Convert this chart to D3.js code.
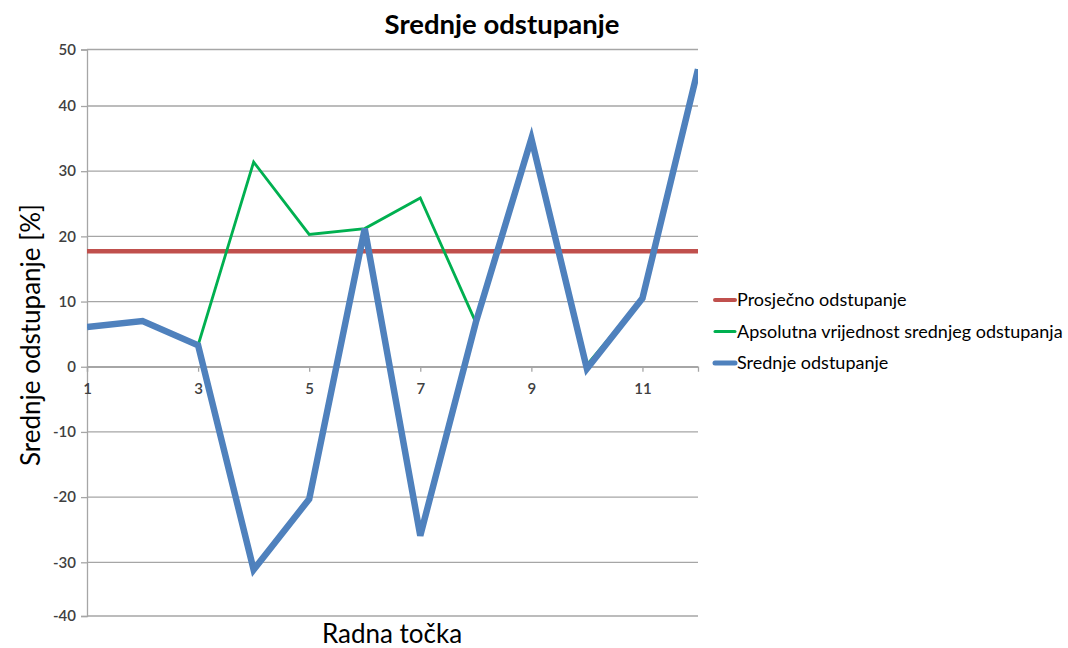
<!DOCTYPE html>
<html><head><meta charset="utf-8">
<script src="https://cdn.jsdelivr.net/npm/d3@7"></script>
<style>body{margin:0;background:#fff} text{font-family:Lato,"Open Sans",sans-serif}</style>
</head><body><svg id="c" width="1068" height="648"></svg>
<script>
const categories = [1,2,3,4,5,6,7,8,9,10,11,12];
const srednjeOdstupanje = [6.1,7.0,3.3,-31.4,-20.3,21.2,-25.9,6.8,35.0,-0.3,10.5,46.5];
const apsolutnaVrijednost = [6.1,7.0,3.3,31.4,20.3,21.2,25.9,6.8,35.0,0.3,10.5,46.5];
const prosjecnoOdstupanje = [17.7,17.7,17.7,17.7,17.7,17.7,17.7,17.7,17.7,17.7,17.7,17.7];
const yTicks = [-40,-30,-20,-10,0,10,20,30,40,50];
const xTickLabels = [1,3,5,7,9,11];
const seriesNames = ["Prosječno odstupanje","Apsolutna vrijednost srednjeg odstupanja","Srednje odstupanje"];

const svg = d3.select("#c");
const x = d3.scaleLinear().domain([1,12]).range([87,698]);
const y = d3.scaleLinear().domain([-40,-30,40,50]).range([616,562.3,106,49.5]);
const grid = "#a6a6a6";

// gridlines
svg.append("g").selectAll("line").data(yTicks).join("line")
  .attr("x1",x(1)).attr("x2",x(12)).attr("y1",d=>y(d)).attr("y2",d=>y(d))
  .attr("stroke",grid).attr("stroke-width",1.3);

// y axis
const yAxis = svg.append("g").attr("transform",`translate(${x(1)},0)`)
  .call(d3.axisLeft(y).tickValues(yTicks).tickSize(6).tickPadding(5).tickFormat(d=>String(d)));
yAxis.select(".domain").attr("stroke",grid).attr("stroke-width",1.3);
yAxis.selectAll(".tick line").attr("stroke",grid).attr("stroke-width",1.3);
yAxis.selectAll(".tick text").attr("fill","#404040").style("font-size","15px").style("font-family","Lato, sans-serif").style("font-weight","600");

// x axis at zero
const xAxis = svg.append("g").attr("transform",`translate(0,${y(0)})`)
  .call(d3.axisBottom(x).tickValues(xTickLabels).tickSize(5).tickPadding(12).tickFormat(d=>String(d)));
xAxis.select(".domain").attr("stroke",grid).attr("stroke-width",1.3);
xAxis.selectAll(".tick line").attr("stroke",grid).attr("stroke-width",1.3);
xAxis.selectAll(".tick text").attr("fill","#404040").style("font-size","15px").style("font-family","Lato, sans-serif").style("font-weight","600");

// clip
svg.append("clipPath").attr("id","plot").append("rect")
  .attr("x",x(1)).attr("y",30).attr("width",x(12)-x(1)).attr("height",600);

const line = d3.line().x((d,i)=>x(categories[i])).y(d=>y(d));
const plot = svg.append("g").attr("clip-path","url(#plot)");
plot.append("path").datum(prosjecnoOdstupanje).attr("d",line)
  .attr("fill","none").attr("stroke","#c0504d").attr("stroke-width",4.5);
plot.append("path").datum(apsolutnaVrijednost).attr("d",line)
  .attr("fill","none").attr("stroke","#00b050").attr("stroke-width",2.8).attr("stroke-linejoin","miter");
plot.append("path").datum(srednjeOdstupanje).attr("d",line)
  .attr("fill","none").attr("stroke","#4f81bd").attr("stroke-width",6.5).attr("stroke-linejoin","miter");

// title
svg.append("text").attr("x",502).attr("y",34).attr("text-anchor","middle")
  .style("font-size","27.5px").style("font-weight","bold").attr("fill","#000").text("Srednje odstupanje");

// axis titles
svg.append("text").attr("transform",`translate(40,335) rotate(-90)`).attr("text-anchor","middle")
  .style("font-size","26px").attr("fill","#000").text("Srednje odstupanje [%]");
svg.append("text").attr("x",392).attr("y",643).attr("text-anchor","middle")
  .style("font-size","26px").attr("fill","#000").text("Radna točka");

// legend
const legColors = ["#c0504d","#00b050","#4f81bd"];
const legW = [4,3,5];
const legY = [300,331.5,363];
const leg = svg.append("g");
seriesNames.forEach((n,i)=>{
  leg.append("line").attr("x1",715).attr("x2",735).attr("y1",legY[i]).attr("y2",legY[i])
    .attr("stroke",legColors[i]).attr("stroke-width",legW[i]).attr("stroke-linecap","round");
  leg.append("text").attr("x",737).attr("y",legY[i]+6).style("font-size","18px")
    .attr("fill","#000").text(n);
});
</script></body></html>
